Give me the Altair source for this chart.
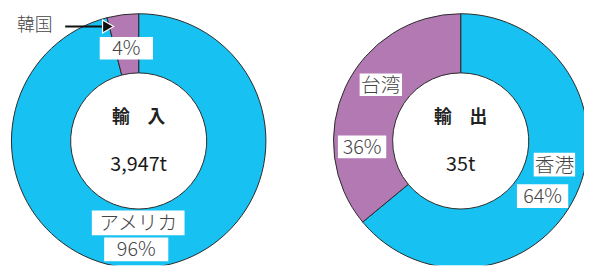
import altair as alt
import pandas as pd

# ---- data ----
imports_cat = ["アメリカ", "韓国"]
imports_pct = [96, 4]
exports_cat = ["香港", "台湾"]
exports_pct = [64, 36]
center_titles = ["輸　入", "輸　出"]
center_totals = ["3,947t", "35t"]

# ---- layout / style ----
W, H = 584, 259
CENTERS = [(132.5, 133), (459, 133)]
R_OUT, R_IN = 129, 69
CYAN, PURPLE = "#17C1F1", "#B379B3"
FONT = "Noto Sans CJK JP"
TXT = "#444444"

color_scale = alt.Scale(domain=imports_cat + exports_cat, range=[CYAN, PURPLE, CYAN, PURPLE])


def donut(cats, pcts, center):
    df = pd.DataFrame({"cat": cats, "pct": pcts, "ord": list(range(len(cats)))})
    return alt.Chart(df).mark_arc(
        outerRadius=R_OUT, innerRadius=R_IN, stroke="#2a2a2a", strokeWidth=1, clip=True
    ).encode(
        theta=alt.Theta("pct:Q", stack=True),
        color=alt.Color("cat:N", scale=color_scale, legend=None),
        order=alt.Order("ord:Q"),
        x=alt.value(center[0]),
        y=alt.value(center[1]),
    )


# label boxes (x, y, box width, box height) in pixels
label_text = [
    imports_cat[0], f"{imports_pct[0]}%", f"{imports_pct[1]}%",
    exports_cat[1], f"{exports_pct[1]}%", exports_cat[0], f"{exports_pct[0]}%",
]
label_pos = [(132, 216, 94, 25), (130, 243, 65, 24), (120, 39, 54, 23),
             (378, 76, 43, 23), (359, 139, 49, 23), (554, 157, 42, 24), (542, 189, 52, 24)]
lab = pd.DataFrame({
    "t": label_text,
    "x": [p[0] for p in label_pos],
    "y": [p[1] for p in label_pos],
    "x1": [p[0] - p[2] / 2 for p in label_pos],
    "x2": [p[0] + p[2] / 2 for p in label_pos],
    "y1": [p[1] - p[3] / 2 for p in label_pos],
    "y2": [p[1] + p[3] / 2 for p in label_pos],
})

boxes = alt.Chart(lab).mark_rect(color="white").encode(
    x=alt.X("x1:Q", scale=None), x2="x2", y=alt.Y("y1:Q", scale=None), y2="y2"
)
labels = alt.Chart(lab).mark_text(font=FONT, fontSize=20, fontWeight=300, color=TXT,
                                  baseline="middle", dy=1).encode(
    x=alt.X("x:Q", scale=None), y=alt.Y("y:Q", scale=None), text="t:N"
)

# Korea label with arrow
kor = pd.DataFrame({"t": [imports_cat[1]], "x": [27], "y": [17]})
kor_text = alt.Chart(kor).mark_text(font=FONT, fontSize=18, fontWeight=300, color=TXT,
                                    baseline="middle").encode(
    x=alt.X("x:Q", scale=None), y=alt.Y("y:Q", scale=None), text="t:N"
)
arr = pd.DataFrame({"x": [58], "x2": [96], "y": [17], "hx": [101.5]})
arrow_line = alt.Chart(arr).mark_rule(color="#111", strokeWidth=2).encode(
    x=alt.X("x:Q", scale=None), x2="x2", y=alt.Y("y:Q", scale=None)
)
arrow_head = alt.Chart(arr).mark_point(shape="triangle-right", size=170, filled=True,
                                       fill="#111", stroke="white", strokeWidth=1.2,
                                       opacity=1).encode(
    x=alt.X("hx:Q", scale=None), y=alt.Y("y:Q", scale=None)
)

# center texts
cen = pd.DataFrame({
    "title": center_titles, "total": center_totals,
    "x": [c[0] for c in CENTERS], "y": [c[1] for c in CENTERS],
})
titles = alt.Chart(cen).mark_text(font=FONT, fontSize=18, fontWeight="bold", color="#222",
                                  baseline="middle", dy=-23).encode(
    x=alt.X("x:Q", scale=None), y=alt.Y("y:Q", scale=None), text="title:N"
)
totals = alt.Chart(cen).mark_text(font=FONT, fontSize=20, fontWeight="normal", color="#1a1a1a",
                                  baseline="middle", dy=24).encode(
    x=alt.X("x:Q", scale=None), y=alt.Y("y:Q", scale=None), text="total:N"
)

chart = alt.layer(
    donut(imports_cat, imports_pct, CENTERS[0]),
    donut(exports_cat, exports_pct, CENTERS[1]),
    boxes, labels, kor_text, arrow_line, arrow_head, titles, totals,
).properties(
    width=W, height=H, padding=0, background="white",
    autosize=alt.AutoSizeParams(type="none"),
).configure_view(stroke=None)

chart.save("out.html", embed_options={"renderer": "svg", "actions": False})
